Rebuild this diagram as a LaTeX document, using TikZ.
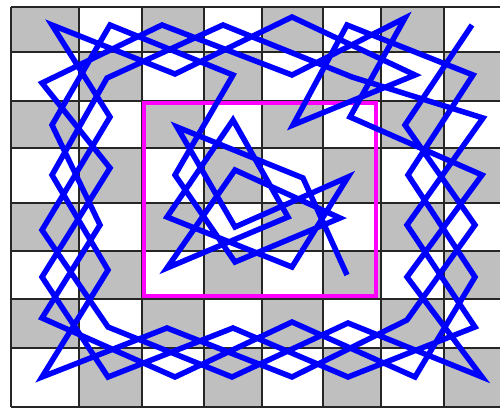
\documentclass[tikz,border=0pt]{standalone}
\definecolor{boxmagenta}{RGB}{255,0,255}
\definecolor{tourblue}{RGB}{0,0,255}
\begin{document}
\begin{tikzpicture}[x=1pt,y=-1pt,
  cellgray/.style={fill=black!25},
  gridline/.style={draw=black!85,line width=1.3pt},
  centrebox/.style={draw=boxmagenta,line width=4pt},
  tour/.style={draw=tourblue,line width=5.5pt,line join=miter}]
\useasboundingbox (0,0) rectangle (500,409);
\begin{scope}
\clip (0,0) rectangle (500,409);
\foreach \c/\xa/\xb in {0/11/79,1/79/142,2/142/204,3/204/262,4/262/323,5/323/381,6/381/444,7/444/506}
  \foreach \r/\ya/\yb in {0/7/52,1/52/101,2/101/148,3/148/203,4/203/251,5/251/299,6/299/348,7/348/407}
  {\pgfmathtruncatemacro{\cellparity}{mod(\c+\r,2)}
   \ifnum\cellparity=0 \fill[cellgray] (\xa,\ya) rectangle (\xb,\yb);\fi}
\foreach \x in {11,79,142,204,262,323,381,444} \draw[gridline] (\x,7) -- (\x,407);
\foreach \y in {7,52,101,148,203,251,299,348,407} \draw[gridline] (11,\y) -- (506,\y);
\end{scope}
\draw[centrebox] (144,103) rectangle (376,296);
% cell vertices c<col><row>
\coordinate (c00) at (52,25);  \coordinate (c10) at (110,25); \coordinate (c20) at (162,25); \coordinate (c30) at (223,25);
\coordinate (c40) at (292,17); \coordinate (c50) at (347,25); \coordinate (c60) at (405,18); \coordinate (c70) at (472,25);
\coordinate (c01) at (42,83);  \coordinate (c11) at (107,78); \coordinate (c21) at (175,74); \coordinate (c31) at (233,75);
\coordinate (c41) at (292,75); \coordinate (c51) at (352,77); \coordinate (c61) at (415,75); \coordinate (c71) at (473,75);
\coordinate (c02) at (52,125); \coordinate (c12) at (110,117); \coordinate (c22) at (177,127); \coordinate (c32) at (233,120);
\coordinate (c42) at (293,125); \coordinate (c52) at (350,117); \coordinate (c62) at (405,125); \coordinate (c72) at (483,118);
\coordinate (c03) at (52,175); \coordinate (c13) at (110,168); \coordinate (c23) at (175,175); \coordinate (c33) at (235,170);
\coordinate (c43) at (303,178); \coordinate (c53) at (348,177); \coordinate (c63) at (408,175); \coordinate (c73) at (482,175);
\coordinate (c04) at (42,230); \coordinate (c14) at (100,225); \coordinate (c24) at (167,217); \coordinate (c34) at (235,227);
\coordinate (c44) at (288,217); \coordinate (c54) at (340,218); \coordinate (c64) at (407,225); \coordinate (c74) at (475,225);
\coordinate (c05) at (42,277); \coordinate (c15) at (108,270); \coordinate (c25) at (167,268); \coordinate (c35) at (235,262);
\coordinate (c45) at (292,267); \coordinate (c55) at (347,275); \coordinate (c65) at (407,277); \coordinate (c75) at (475,277);
\coordinate (c06) at (42,318); \coordinate (c16) at (108,327); \coordinate (c26) at (167,328); \coordinate (c36) at (233,328);
\coordinate (c46) at (292,322); \coordinate (c56) at (348,323); \coordinate (c66) at (407,320); \coordinate (c76) at (475,327);
\coordinate (c07) at (42,377); \coordinate (c17) at (108,377); \coordinate (c27) at (175,377); \coordinate (c37) at (232,377);
\coordinate (c47) at (292,377); \coordinate (c57) at (348,377); \coordinate (c67) at (415,377); \coordinate (c77) at (482,377);
\draw[tour] (c70) -- (c62) -- (c74) -- (c66) -- (c47) -- (c26) -- (c07) -- (c15)
  -- (c03) -- (c11) -- (c30) -- (c51) -- (c72) -- (c64) -- (c76) -- (c57)
  -- (c36) -- (c17) -- (c05) -- (c13) -- (c01) -- (c20) -- (c41) -- (c60)
  -- (c52) -- (c73) -- (c65) -- (c77) -- (c56) -- (c37) -- (c16) -- (c04)
  -- (c12) -- (c00) -- (c21) -- (c40) -- (c61) -- (c42) -- (c50) -- (c71)
  -- (c63) -- (c75) -- (c67) -- (c46) -- (c27) -- (c06) -- (c14) -- (c02)
  -- (c10) -- (c31) -- (c23) -- (c35) -- (c54) -- (c33) -- (c25) -- (c44)
  -- (c32) -- (c24) -- (c45) -- (c53) -- (c34) -- (c22) -- (c43) -- (c55);
\end{tikzpicture}
\end{document}
